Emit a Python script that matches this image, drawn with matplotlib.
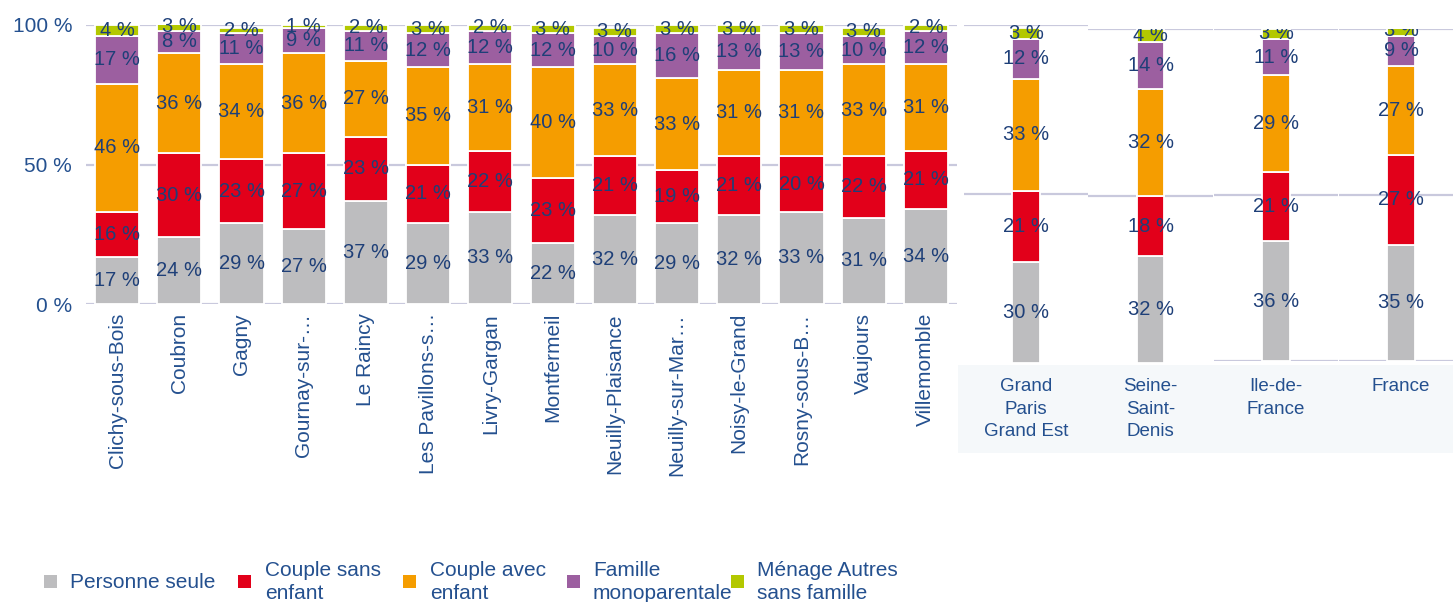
import matplotlib
matplotlib.use("Agg")
import matplotlib.pyplot as plt
from matplotlib.patches import Rectangle
import numpy as np

plt.rcParams['font.family'] = ['Liberation Sans', 'DejaVu Sans']

# ---------------- data ----------------
series = ["Personne seule", "Couple sans\nenfant", "Couple avec\nenfant",
          "Famille\nmonoparentale", "Ménage Autres\nsans famille"]
colors = ["#bdbdbf", "#e2001a", "#f59d00", "#9c5fa0", "#b3c800"]

communes = ["Clichy-sous-Bois", "Coubron", "Gagny", "Gournay-sur-…", "Le Raincy",
            "Les Pavillons-s…", "Livry-Gargan", "Montfermeil", "Neuilly-Plaisance",
            "Neuilly-sur-Mar…", "Noisy-le-Grand", "Rosny-sous-B…", "Vaujours",
            "Villemomble"]
personne_seule = [17, 24, 29, 27, 37, 29, 33, 22, 32, 29, 32, 33, 31, 34]
couple_sans    = [16, 30, 23, 27, 23, 21, 22, 23, 21, 19, 21, 20, 22, 21]
couple_avec    = [46, 36, 34, 36, 27, 35, 31, 40, 33, 33, 31, 31, 33, 31]
monoparentale  = [17, 8, 11, 9, 11, 12, 12, 12, 10, 16, 13, 13, 10, 12]
autres         = [4, 3, 2, 1, 2, 3, 2, 3, 3, 3, 3, 3, 3, 2]

territoires = ["Grand\nParis\nGrand Est", "Seine-\nSaint-\nDenis", "Ile-de-\nFrance", "France"]
terr_personne_seule = [30, 32, 36, 35]
terr_couple_sans    = [21, 18, 21, 27]
terr_couple_avec    = [33, 32, 29, 27]
terr_monoparentale  = [12, 14, 11, 9]
terr_autres         = [3, 4, 3, 3]

yticks = [0, 50, 100]
ytick_labels = ["0 %", "50 %", "100 %"]

# ---------------- style ----------------
W, H = 1453, 602
TXT = "#24508f"
LBL = "#1e3f78"
GRID = "#c9c9dd"

fig = plt.figure(figsize=(W / 100, H / 100), dpi=100)
fig.patch.set_facecolor("white")


def px_axes(l, r, y0, y100):
    return fig.add_axes([l / W, (H - y0) / H, (r - l) / W, (y0 - y100) / H])


def draw_stack(ax, xs, cols, width, fs, clip):
    bottom = np.zeros(len(xs))
    for vals, c in zip(cols, colors):
        vals = np.asarray(vals, dtype=float)
        ax.bar(xs, vals, width=width, bottom=bottom, color=c,
               edgecolor="white", linewidth=1.3, zorder=2)
        for x, b, v in zip(xs, bottom, vals):
            t = ax.text(x, b + v / 2, f"{int(v)} %", ha="center", va="center",
                        fontsize=fs, color=LBL, zorder=3)
            t.set_clip_on(clip)
        bottom += vals


def style(ax):
    ax.set_facecolor("none")
    for s in ax.spines.values():
        s.set_visible(False)
    ax.set_ylim(0, 100)
    ax.tick_params(length=0)
    ax.yaxis.grid(True, color=GRID, linewidth=1.6, zorder=0)
    ax.set_axisbelow(True)


# ---------------- main chart ----------------
ax = px_axes(86, 957, 304, 25)
style(ax)
xs = np.arange(len(communes))
draw_stack(ax, xs, [personne_seule, couple_sans, couple_avec, monoparentale, autres],
           0.71, 14.5, False)
ax.set_xlim(-0.5, len(communes) - 0.5)
ax.set_yticks(yticks)
ax.set_yticklabels(ytick_labels, fontsize=15, color=TXT)
ax.tick_params(axis="y", pad=10)
ax.set_xticks(xs)
ax.set_xticklabels(communes, rotation=90, fontsize=15, color=TXT, va="top", ha="center")
ax.tick_params(axis="x", pad=6.5)

# ---------------- territory panels ----------------
panels = [(964, 1088, 363, 25), (1088, 1213, 363, 29),
          (1214, 1338, 361, 29), (1339, 1463, 361, 29)]
terr_cols = [terr_personne_seule, terr_couple_sans, terr_couple_avec,
             terr_monoparentale, terr_autres]

# label background box
fig.patches.append(Rectangle((958 / W, (H - 453) / H), (W - 958) / W, 88 / H,
                             transform=fig.transFigure, facecolor="#f5f8fa",
                             edgecolor="none", zorder=-1))

for i, (l, r, y0, y100) in enumerate(panels):
    pax = px_axes(l, r, y0, y100)
    style(pax)
    draw_stack(pax, [0], [[c[i]] for c in terr_cols], 0.22, 14.5, True)
    pax.set_xlim(-0.5, 0.5)
    pax.set_yticks([50, 100] if i < 2 else [0, 50, 100])
    pax.set_yticklabels([])
    pax.set_xticks([0])
    pax.set_xticklabels([territoires[i]], fontsize=13.5, color=TXT, va="top",
                        ha="center", multialignment="center", linespacing=1.42)
    pax.tick_params(axis="x", pad=11 if i < 2 else 12.5)

# ---------------- legend ----------------
leg_marker_x = [44, 238, 403, 567, 731]
leg_text_x = [70, 265, 430, 593, 757]
for name, c, mx, tx in zip(series, colors, leg_marker_x, leg_text_x):
    fig.patches.append(Rectangle((mx / W, (H - 588) / H), 13 / W, 13 / H,
                                 transform=fig.transFigure, facecolor=c,
                                 edgecolor="none"))
    fig.text(tx / W, (H - 582) / H, name, ha="left", va="center",
             fontsize=15, color=TXT, linespacing=1.25)

fig.savefig("out.png", dpi=100)
